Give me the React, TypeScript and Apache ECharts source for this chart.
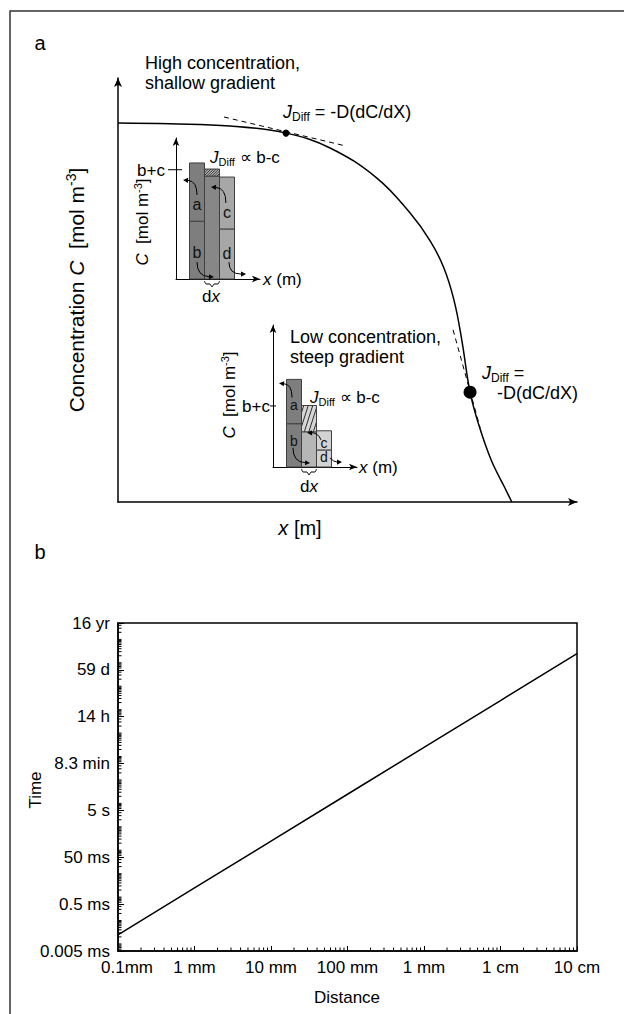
import React, { useEffect, useRef } from 'react';
import * as echarts from 'echarts';

const FONT = '"Liberation Sans", Arial, Helvetica, sans-serif';

// ---------- Panel a: schematic concentration profile ----------
const profileX = [0, 11.3, 24.4, 36.6, 46.2, 56.4, 63.6, 68.0, 71.0, 73.2, 74.9, 76.7, 78.6, 81.3, 84.3, 85.8];
const profileC = [89.4, 89.2, 88.7, 87.0, 83.5, 76.4, 68.2, 61.6, 55.2, 47.6, 38.2, 25.9, 18.2, 9.9, 3.3, 0];
const tangentHighX = [23.1, 49.5];
const tangentHighC = [90.8, 84.0];
const tangentLowX = [73.0, 78.9];
const tangentLowC = [40.6, 17.5];
const pointHigh = [36.6, 87.0];
const pointLow = [76.7, 25.9];

// ---------- Insets (bar columns a/b, middle, c/d) ----------
const insetBarX = [1.4, 2.4, 3.4];
const highLower = [4.1, 7.3, 3.55];
const highUpper = [4.13, 0.5, 3.68];
const highBC = 7.75;
const highLabels = ['a', 'b', 'c', 'd'];
const highLabelX = [1.4, 1.4, 3.4, 3.4];
const highLabelY = [5.25, 1.91, 4.75, 1.84];
const highArrows = [
  [1.4, 5.96, 1.4, 6.95, 0.47, 7.02],
  [3.33, 5.39, 3.33, 6.45, 2.33, 6.52],
  [1.4, 1.2, 1.4, 0.21, 2.53, 0.14],
  [3.53, 1.2, 3.53, 0.35, 4.67, 0.35],
];

const lowLower = [3.05, 2.48, 1.2];
const lowUpper = [3.12, 1.85, 1.35];
const lowBC = 4.3;
const lowLabels = ['a', 'b', 'c', 'd'];
const lowLabelX = [1.4, 1.4, 3.4, 3.4];
const lowLabelY = [4.4, 1.84, 1.7, 0.71];
const lowArrows = [
  [1.27, 4.89, 1.27, 5.82, 0.4, 5.89],
  [3.2, 1.91, 3.0, 2.41, 2.27, 2.41],
  [1.33, 1.35, 1.33, 0.35, 2.47, 0.28],
  [3.8, 0.64, 4.07, 0.35, 4.6, 0.35],
];

// ---------- Panel b: diffusion time vs distance ----------
const distanceM = [1e-7, 1e-6, 1e-5, 1e-4, 1e-3, 1e-2, 1e-1];
const timeS = [2.45e-5, 2.45e-3, 0.245, 24.5, 2450, 2.45e5, 2.45e7];
const distanceLabels = ['0.1mm', '1 mm', '10 mm', '100 mm', '1 mm', '1 cm', '10 cm'];
const timeLabels = ['0.005 ms', '0.5 ms', '50 ms', '5 s', '8.3 min', '14 h', '59 d', '16 yr'];
const distMin = 1e-7;
const timeMin = 5e-6;

type Seg = {
  kind: 'rect' | 'label' | 'tick' | 'brace';
  x: number;
  y0: number;
  y1: number;
  fill?: string;
  hatch?: { spacing: number; slope: number; bg: string };
  text?: string;
};

function hatchLines(rx: number, ry: number, w: number, h: number, spacing: number, slope: number) {
  const yb = ry + h;
  const out: any[] = [];
  for (let c = rx - slope * h + spacing / 2; c <= rx + w; c += spacing) {
    const t0 = Math.max(0, (rx - c) / slope);
    const t1 = Math.min(h, (rx + w - c) / slope);
    if (t1 > t0) {
      out.push({
        type: 'line',
        shape: { x1: c + slope * t0, y1: yb - t0, x2: c + slope * t1, y2: yb - t1 },
        style: { stroke: '#1a1a1a', lineWidth: 0.9 },
      });
    }
  }
  return out;
}

function insetSeries(
  gridIdx: number,
  lower: number[],
  upper: number[],
  lowerFill: string[],
  upperFill: string[],
  hatch: { spacing: number; slope: number; bg: string },
  labels: string[],
  labelX: number[],
  labelY: number[],
  bc: number,
  fontSize: number,
  tick: { left: number; right: number; gap: number }
) {
  const segs: Seg[] = [];
  insetBarX.forEach((x, i) => {
    segs.push({ kind: 'rect', x, y0: 0, y1: lower[i], fill: lowerFill[i] });
    segs.push({
      kind: 'rect',
      x,
      y0: lower[i],
      y1: lower[i] + upper[i],
      fill: i === 1 ? hatch.bg : upperFill[i],
      hatch: i === 1 ? hatch : undefined,
    });
  });
  labels.forEach((t, i) => segs.push({ kind: 'label', x: labelX[i], y0: labelY[i], y1: labelY[i], text: t }));
  segs.push({ kind: 'tick', x: 0, y0: bc, y1: bc, text: 'b+c' });
  segs.push({ kind: 'brace', x: insetBarX[1], y0: 0, y1: 0 });

  return {
    type: 'custom',
    xAxisIndex: gridIdx,
    yAxisIndex: gridIdx,
    silent: true,
    z: 3,
    dimensions: ['x', 'y0', 'y1'],
    encode: { x: 0, y: [1, 2] },
    data: segs.map((s) => [s.x, s.y0, s.y1]),
    renderItem: (params: any, api: any) => {
      const s = segs[params.dataIndex];
      if (s.kind === 'rect') {
        const p0 = api.coord([s.x - 0.5, s.y0]);
        const p1 = api.coord([s.x + 0.5, s.y1]);
        const rx = p0[0];
        const ry = p1[1];
        const w = p1[0] - p0[0];
        const h = p0[1] - p1[1];
        const children: any[] = [
          { type: 'rect', shape: { x: rx, y: ry, width: w, height: h }, style: { fill: s.fill, stroke: 'none' } },
        ];
        if (s.hatch) children.push(...hatchLines(rx, ry, w, h, s.hatch.spacing, s.hatch.slope));
        children.push({
          type: 'rect',
          shape: { x: rx, y: ry, width: w, height: h },
          style: { fill: 'none', stroke: '#404040', lineWidth: 1 },
        });
        return { type: 'group', children };
      }
      if (s.kind === 'label') {
        const p = api.coord([s.x, s.y0]);
        return {
          type: 'text',
          x: p[0],
          y: p[1],
          style: { text: s.text, fontSize, fontFamily: FONT, fill: '#111', align: 'center', verticalAlign: 'middle' },
        };
      }
      if (s.kind === 'tick') {
        const p = api.coord([0, s.y0]);
        return {
          type: 'group',
          children: [
            {
              type: 'line',
              shape: { x1: p[0] - tick.left, y1: p[1], x2: p[0] + tick.right, y2: p[1] },
              style: { stroke: '#000', lineWidth: 1 },
            },
            {
              type: 'text',
              x: p[0] - tick.gap,
              y: p[1] + 1,
              style: { text: s.text, fontSize: 17, fontFamily: FONT, fill: '#000', align: 'right', verticalAlign: 'middle' },
            },
          ],
        };
      }
      // brace
      const a = api.coord([s.x - 0.5, 0]);
      const b = api.coord([s.x + 0.5, 0]);
      const y = a[1];
      const mid = (a[0] + b[0]) / 2;
      return {
        type: 'polyline',
        shape: {
          points: [
            [a[0], y + 2],
            [a[0] + 1.5, y + 5],
            [mid - 2, y + 5],
            [mid, y + 8],
            [mid + 2, y + 5],
            [b[0] - 1.5, y + 5],
            [b[0], y + 2],
          ],
          smooth: 0.3,
        },
        style: { stroke: '#000', fill: 'none', lineWidth: 1 },
      };
    },
  };
}

function arrowSeries(gridIdx: number, arrows: number[][]) {
  return {
    type: 'custom',
    xAxisIndex: gridIdx,
    yAxisIndex: gridIdx,
    silent: true,
    z: 4,
    dimensions: ['x0', 'y0', 'cx', 'cy', 'x1', 'y1'],
    encode: { x: [0, 2, 4], y: [1, 3, 5] },
    data: arrows,
    renderItem: (params: any, api: any) => {
      const a = arrows[params.dataIndex];
      const p0 = api.coord([a[0], a[1]]);
      const c = api.coord([a[2], a[3]]);
      const p1 = api.coord([a[4], a[5]]);
      const dx = p1[0] - c[0];
      const dy = p1[1] - c[1];
      const L = Math.hypot(dx, dy) || 1;
      const ux = dx / L;
      const uy = dy / L;
      const hl = 5;
      const hw = 2.6;
      const bx = p1[0] - ux * hl;
      const by = p1[1] - uy * hl;
      return {
        type: 'group',
        children: [
          {
            type: 'bezierCurve',
            shape: { x1: p0[0], y1: p0[1], cpx1: c[0], cpy1: c[1], x2: bx, y2: by },
            style: { stroke: '#000', fill: 'none', lineWidth: 1 },
          },
          {
            type: 'polygon',
            shape: { points: [[p1[0], p1[1]], [bx - uy * hw, by + ux * hw], [bx + uy * hw, by - ux * hw]] },
            style: { fill: '#000' },
          },
        ],
      };
    },
  };
}

function gText(x: number, y: number, text: string, style: any = {}, rotation = 0) {
  return {
    type: 'text',
    x,
    y,
    rotation,
    silent: true,
    style: { text, fontFamily: FONT, fontSize: 17, fill: '#000', align: 'left', verticalAlign: 'middle', ...style },
  };
}

function richSet(fs: number) {
  const lh = Math.round(fs * 1.2);
  const small = Math.round(fs * 0.65);
  return {
    n: { fontSize: fs, fontFamily: FONT, fill: '#000', lineHeight: lh },
    i: { fontSize: fs, fontFamily: FONT, fill: '#000', fontStyle: 'italic', lineHeight: lh },
    s: { fontSize: small, fontFamily: FONT, fill: '#000', lineHeight: Math.round(fs * 0.6), verticalAlign: 'bottom' },
    p: { fontSize: small, fontFamily: FONT, fill: '#000', lineHeight: Math.round(fs * 0.6), verticalAlign: 'top' },
  };
}

function buildOption() {
  const hideAxis = (gridIndex: number, max: number, width: number, arrow: number[]) => ({
    gridIndex,
    type: 'value',
    min: 0,
    max,
    axisLine: {
      show: true,
      onZero: false,
      symbol: ['none', 'arrow'],
      symbolSize: arrow,
      lineStyle: { color: '#000', width },
    },
    axisTick: { show: false },
    axisLabel: { show: false },
    splitLine: { show: false },
  });

  const xMinor: number[][] = [];
  for (let k = 0; k < 6; k++) for (let m = 2; m <= 9; m++) xMinor.push([k + Math.log10(m), 0]);
  const yMinor: number[][] = [];
  for (let e = -6; e <= 8; e++) {
    for (let m = 1; m <= 9; m++) {
      const t = m * Math.pow(10, e);
      if (t <= timeMin * 1.0001 || t >= 5e8 * 0.9999) continue;
      if (m === 5 && e % 2 === 0) continue;
      yMinor.push([0, Math.log10(t / timeMin)]);
    }
  }

  const timeLine = distanceM.map((d, i) => [Math.log10(d / distMin), Math.log10(timeS[i] / timeMin)]);

  const r17 = richSet(17);
  const r18 = richSet(18);
  const r20 = richSet(20);
  const r21 = richSet(21);

  return {
    animation: false,
    backgroundColor: '#fff',
    grid: [
      { left: 118, top: 78, width: 459, height: 424 },
      { left: 176, top: 138, width: 84, height: 141 },
      { left: 273, top: 325, width: 84, height: 142 },
      { left: 118, top: 623, width: 459, height: 328, show: true, borderColor: '#000', borderWidth: 1.5 },
    ],
    xAxis: [
      hideAxis(0, 100, 1.5, [6, 9]),
      hideAxis(1, 5.6, 1, [5, 8]),
      hideAxis(2, 5.6, 1, [5, 8]),
      {
        gridIndex: 3,
        type: 'value',
        min: 0,
        max: 6,
        interval: 1,
        axisLine: { show: true, onZero: false, lineStyle: { color: '#000', width: 1.5 } },
        axisTick: { show: true, inside: true, length: 5, lineStyle: { color: '#000', width: 1 } },
        splitLine: { show: false },
        axisLabel: {
          show: true,
          color: '#000',
          fontSize: 17,
          fontFamily: FONT,
          margin: 8,
          showMinLabel: true,
          showMaxLabel: true,
          formatter: (v: number) => {
            const i = Math.round(v);
            return i === 0 ? '{f|' + distanceLabels[0] + '}' : distanceLabels[i];
          },
          rich: { f: { fontSize: 17, fontFamily: FONT, color: '#000', padding: [0, 0, 0, 18] } },
        },
      },
    ],
    yAxis: [
      hideAxis(0, 100, 1.5, [6, 9]),
      hideAxis(1, 10, 1, [5, 8]),
      hideAxis(2, 10, 1, [5, 8]),
      {
        gridIndex: 3,
        type: 'value',
        min: 0,
        max: 14,
        interval: 2,
        axisLine: { show: true, onZero: false, lineStyle: { color: '#000', width: 1.5 } },
        axisTick: { show: true, inside: true, length: 6, lineStyle: { color: '#000', width: 1 } },
        splitLine: { show: false },
        axisLabel: {
          show: true,
          color: '#000',
          fontSize: 17,
          fontFamily: FONT,
          margin: 8,
          showMinLabel: true,
          showMaxLabel: true,
          formatter: (v: number) => timeLabels[Math.round(v / 2)],
        },
      },
    ],
    graphic: [
      {
        type: 'rect',
        silent: true,
        shape: { x: 10, y: 11, width: 700, height: 1100 },
        style: { fill: 'none', stroke: '#333', lineWidth: 1.5 },
      },
      gText(40, 43, 'a', { fontSize: 20, align: 'center' }),
      gText(40, 552, 'b', { fontSize: 20, align: 'center' }),
      gText(145, 63, 'High concentration,', { fontSize: 18 }),
      gText(145, 83, 'shallow gradient', { fontSize: 18 }),
      gText(283, 112, '{i|J}{s|Diff}{n| = -D(dC/dX)}', { rich: r18 }),
      gText(76, 290, '{n|Concentration }{i|C}{n|  [mol m}{p|-3}{n|]}', { rich: r21, align: 'center' }, Math.PI / 2),
      gText(300, 528, '{i|x}{n| [m]}', { rich: r20, align: 'center' }),
      // inset 1
      gText(142, 222, '{i|C}{n|  [mol m}{p|-3}{n|]}', { rich: r17, align: 'center' }, Math.PI / 2),
      gText(210, 157, '{i|J}{s|Diff}{n| ∝ b-c}', { rich: r17 }),
      gText(263, 279, '{i|x}{n| (m)}', { rich: r17 }),
      gText(211, 296, '{n|d}{i|x}', { rich: r17, align: 'center' }),
      // inset 2
      gText(229, 395, '{i|C}{n|  [mol m}{p|-3}{n|]}', { rich: r17, align: 'center' }, Math.PI / 2),
      gText(290, 337, 'Low concentration,', { fontSize: 18 }),
      gText(290, 357, 'steep gradient', { fontSize: 18 }),
      gText(310, 397, '{i|J}{s|Diff}{n| ∝ b-c}', { rich: r17 }),
      gText(359, 467, '{i|x}{n| (m)}', { rich: r17 }),
      gText(309, 486, '{n|d}{i|x}', { rich: r17, align: 'center' }),
      gText(482, 373, '{i|J}{s|Diff}{n| =}', { rich: r18 }),
      gText(497, 393, '-D(dC/dX)', { fontSize: 18 }),
      // panel b titles
      gText(35, 790, 'Time', { align: 'center' }, Math.PI / 2),
      gText(347, 997, 'Distance', { align: 'center' }),
    ],
    series: [
      {
        type: 'line',
        xAxisIndex: 0,
        yAxisIndex: 0,
        data: profileX.map((x, i) => [x, profileC[i]]),
        smooth: 0.4,
        symbol: 'none',
        silent: true,
        lineStyle: { color: '#000', width: 1.5 },
        z: 2,
      },
      {
        type: 'line',
        xAxisIndex: 0,
        yAxisIndex: 0,
        data: tangentHighX.map((x, i) => [x, tangentHighC[i]]),
        symbol: 'none',
        silent: true,
        lineStyle: { color: '#000', width: 1, type: [5, 4] },
      },
      {
        type: 'line',
        xAxisIndex: 0,
        yAxisIndex: 0,
        data: tangentLowX.map((x, i) => [x, tangentLowC[i]]),
        symbol: 'none',
        silent: true,
        lineStyle: { color: '#000', width: 1, type: [5, 4] },
      },
      {
        type: 'scatter',
        xAxisIndex: 0,
        yAxisIndex: 0,
        silent: true,
        data: [
          { value: pointHigh, symbolSize: 7 },
          { value: pointLow, symbolSize: 13 },
        ],
        itemStyle: { color: '#000', opacity: 1 },
        z: 5,
      },
      insetSeries(
        1,
        highLower,
        highUpper,
        ['#7e7e7e', '#878787', '#a7a7a7'],
        ['#7e7e7e', '#bbbbbb', '#a7a7a7'],
        { spacing: 2.6, slope: 1, bg: '#b8b8b8' },
        highLabels,
        highLabelX,
        highLabelY,
        highBC,
        16,
        { left: 8, right: 6, gap: 11 }
      ),
      arrowSeries(1, highArrows),
      insetSeries(
        2,
        lowLower,
        lowUpper,
        ['#7e7e7e', '#b6b6b6', '#d3d3d3'],
        ['#7e7e7e', '#d0d0d0', '#d3d3d3'],
        { spacing: 4.5, slope: 0.32, bg: '#d6d6d6' },
        lowLabels,
        lowLabelX,
        lowLabelY,
        lowBC,
        14,
        { left: 3, right: 3, gap: 3 }
      ),
      arrowSeries(2, lowArrows),
      {
        type: 'line',
        xAxisIndex: 3,
        yAxisIndex: 3,
        data: timeLine,
        symbol: 'none',
        silent: true,
        lineStyle: { color: '#000', width: 1.5 },
      },
      {
        type: 'custom',
        xAxisIndex: 3,
        yAxisIndex: 3,
        silent: true,
        data: xMinor,
        renderItem: (params: any, api: any) => {
          const p = api.coord([api.value(0), api.value(1)]);
          return { type: 'line', shape: { x1: p[0], y1: p[1], x2: p[0], y2: p[1] - 3.5 }, style: { stroke: '#000', lineWidth: 1 } };
        },
      },
      {
        type: 'custom',
        xAxisIndex: 3,
        yAxisIndex: 3,
        silent: true,
        data: yMinor,
        renderItem: (params: any, api: any) => {
          const p = api.coord([api.value(0), api.value(1)]);
          return { type: 'line', shape: { x1: p[0], y1: p[1], x2: p[0] + 3.5, y2: p[1] }, style: { stroke: '#000', lineWidth: 1 } };
        },
      },
    ],
  };
}

export default function App() {
  const ref = useRef<HTMLDivElement>(null);
  useEffect(() => {
    document.body.style.margin = '0';
    const chart = echarts.init(ref.current as HTMLDivElement, null, { renderer: 'svg' });
    chart.setOption(buildOption() as any);
    return () => chart.dispose();
  }, []);
  return <div ref={ref} style={{ width: 624, height: 1014 }} />;
}
